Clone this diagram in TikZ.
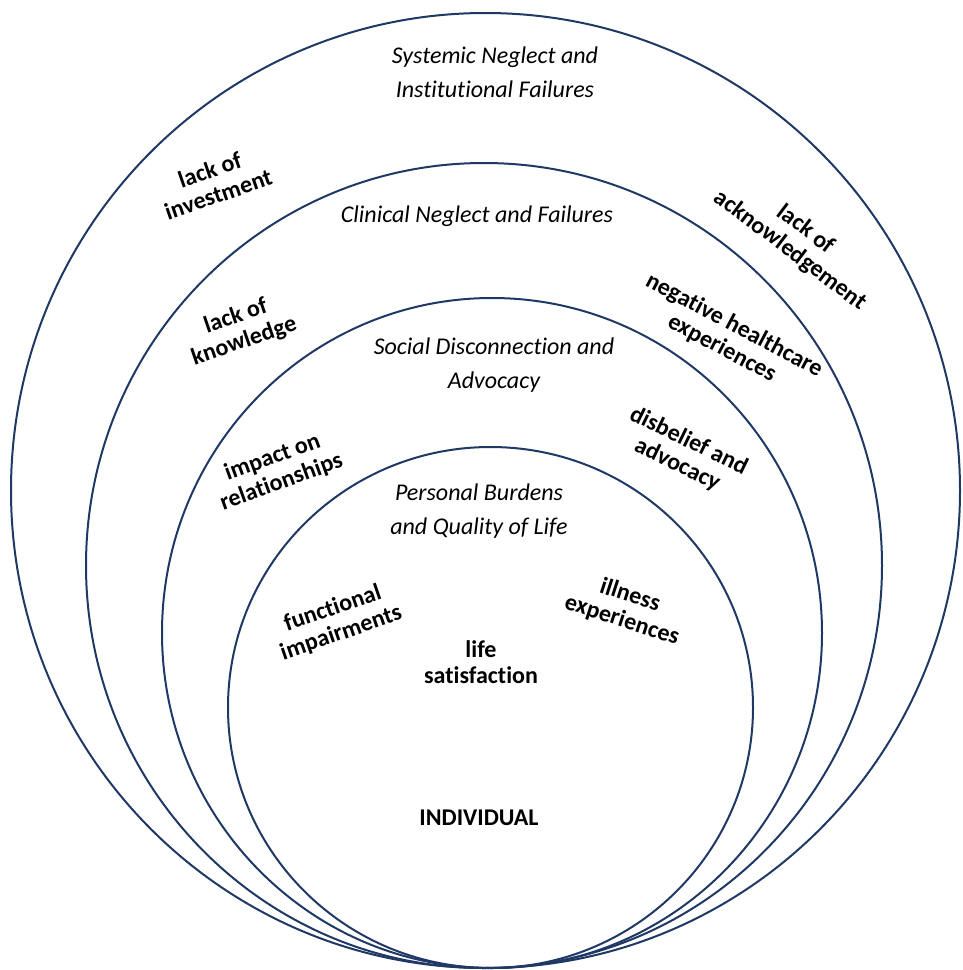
\documentclass[tikz,border=0pt]{standalone}
\usepackage{fontspec}
\setmainfont{Carlito}[Ligatures={NoCommon}]
\definecolor{ringc}{RGB}{31,56,100}
\begin{document}
\begin{tikzpicture}[x=1pt,y=-1pt,
  ring/.style={draw=ringc, line width=2pt},
  theme/.style={font=\fontsize{24}{34}\selectfont\itshape, align=center, inner sep=0pt},
  sub/.style={font=\fontsize{24}{26}\selectfont\bfseries, align=center, inner sep=0pt}]
\useasboundingbox (0,0) rectangle (962,970);
% nested ellipses, all tangent at the bottom
\draw[ring] (485.5,490.5) ellipse [x radius=474.5pt, y radius=477.5pt];
\draw[ring] (484,565.5) ellipse [x radius=398pt, y radius=402.5pt];
\draw[ring] (492,633) ellipse [x radius=330pt, y radius=335pt];
\draw[ring] (490.5,707.5) ellipse [x radius=262.5pt, y radius=260.5pt];
% level titles
\node[theme] (sys) at (495,72) {Systemic Neglect and\\Institutional Failures};
\node[theme, anchor=base] (clin) at (477,222) {Clinical Neglect and Failures};
\node[theme] (soc) at (494,365) {Social Disconnection and\\Advocacy};
\node[theme] (pers) at (479,511) {Personal Burdens\\and Quality of Life};
% sub-themes
\node[sub, rotate=19] (inv) at (214,182) {lack of\\investment};
\node[sub, rotate=-37] (ack) at (798,240) {lack of\\acknowledgement};
\node[sub, rotate=19] (know) at (240,329) {lack of\\knowledge};
\node[sub, rotate=-28] (neg) at (728,337) {negative healthcare\\experiences};
\node[sub, rotate=20] (imp) at (277,470) {impact on\\relationships};
\node[sub, rotate=-26] (dis) at (683,453) {disbelief and\\advocacy};
\node[sub, rotate=19] (fun) at (337,621) {functional\\impairments};
\node[sub, rotate=-18] (ill) at (626,608) {illness\\experiences};
\node[sub] (life) at (481,662) {life\\satisfaction};
\node[sub, anchor=base] (ind) at (479,825) {INDIVIDUAL};
\end{tikzpicture}
\end{document}
